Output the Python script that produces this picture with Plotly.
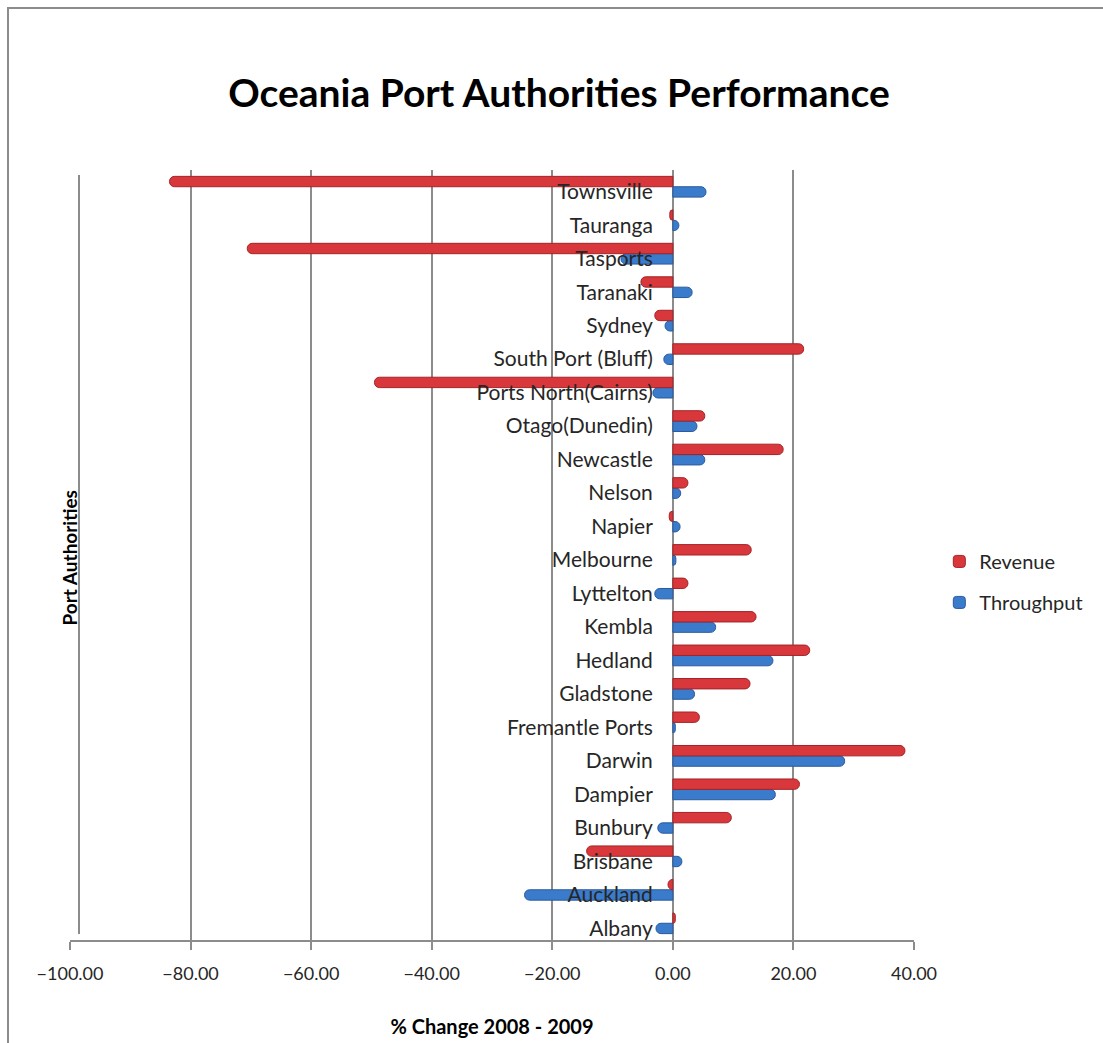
import plotly.graph_objects as go

# Port authorities, bottom to top as they appear on the category axis
ports = [
    "Albany", "Auckland", "Brisbane", "Bunbury", "Dampier", "Darwin",
    "Fremantle Ports", "Gladstone", "Hedland", "Kembla", "Lyttelton",
    "Melbourne", "Napier", "Nelson", "Newcastle", "Otago(Dunedin)",
    "Ports North(Cairns)", "South Port (Bluff)", "Sydney", "Taranaki",
    "Tasports", "Tauranga", "Townsville",
]

# % change 2008 - 2009
revenue = [
    0.4, -0.8, -14.3, 9.7, 21.0, 38.5,
    4.4, 12.8, 22.7, 13.8, 2.5,
    13.0, -0.6, 2.5, 18.3, 5.3,
    -49.5, 21.7, -3.0, -5.3,
    -70.6, -0.5, -83.5,
]
throughput = [
    -2.8, -24.6, 1.5, -2.5, 17.0, 28.5,
    0.4, 3.6, 16.6, 7.1, -3.0,
    0.5, 1.2, 1.3, 5.3, 4.0,
    -3.3, -1.5, -1.3, 3.2,
    -8.6, 1.0, 5.5,
]

x_ticks = [-100, -80, -60, -40, -20, 0, 20, 40]

RED = "#d8383b"
RED_EDGE = "#a52326"
BLUE = "#3b7bcc"
BLUE_EDGE = "#2a5a9c"

W, H = 1103, 1043
L, R, T, B = 70, 189, 170, 103

fig = go.Figure()
fig.add_trace(go.Bar(
    name="Throughput", y=ports, x=throughput, orientation="h",
    marker=dict(color=BLUE, line=dict(color=BLUE_EDGE, width=1)),
    legendgroup="t", legendrank=2,
))
fig.add_trace(go.Bar(
    name="Revenue", y=ports, x=revenue, orientation="h",
    marker=dict(color=RED, line=dict(color=RED_EDGE, width=1)),
    legendgroup="r", legendrank=1,
))

# position of the category axis where it crosses zero
zero_pos = (0 - x_ticks[0]) / (x_ticks[-1] - x_ticks[0])

pw, ph = W - L - R, H - T - B


def px_x(p):
    return (p - L) / pw


def px_y(p):
    return (H - B - p) / ph


fig.update_layout(
    width=W, height=H,
    margin=dict(l=L, r=R, t=T, b=B, autoexpand=False),
    paper_bgcolor="white", plot_bgcolor="white",
    barmode="group", bargap=0.38, bargroupgap=0.0,
    barcornerradius=5,
    font=dict(family="Lato", color="#262626"),
    title=dict(
        text="<b>Oceania Port Authorities Performance</b>",
        x=559 / W, xref="container", xanchor="center",
        y=1 - 93 / H, yanchor="middle",
        font=dict(family="Lato", size=39, color="black"),
    ),
    xaxis=dict(
        range=[x_ticks[0], x_ticks[-1]],
        tickvals=x_ticks, tickformat=".2f",
        tickfont=dict(size=18, color="#262626"),
        ticklabelstandoff=8,
        showgrid=True, gridcolor="#8c8c8c", gridwidth=2,
        zeroline=False, automargin=False,
        showline=True, linecolor="#8c8c8c", linewidth=2,
        ticks="outside", ticklen=8, tickcolor="#8c8c8c", tickwidth=2,
        title=dict(text="<b>% Change 2008 - 2009</b>",
                   font=dict(size=20, color="black"), standoff=37),
    ),
    yaxis=dict(
        type="category", categoryorder="array", categoryarray=ports,
        anchor="free", position=zero_pos, automargin=False,
        showgrid=False, showline=False, zeroline=False,
        ticks="", ticklabelstandoff=20, ticklabelshift=5,
        tickfont=dict(size=21, color="#262626"),
    ),
    legend=dict(
        x=1.03, xanchor="left", y=0.517, yanchor="top",
        font=dict(size=20, color="#262626"),
        tracegroupgap=12, itemwidth=30,
        bgcolor="rgba(0,0,0,0)",
    ),
    annotations=[
        dict(text="<b>Port Authorities</b>", textangle=-90,
             xref="paper", yref="paper", x=px_x(55), y=px_y(558),
             showarrow=False, font=dict(size=19, color="black")),
    ],
    shapes=[
        # chart-area frame
        dict(type="rect", xref="paper", yref="paper",
             x0=px_x(8), y0=px_y(H + 20), x1=px_x(W + 20), y1=px_y(8),
             line=dict(color="#8c8c8c", width=2), layer="below"),
        # left wall edge
        dict(type="line", xref="paper", yref="paper",
             x0=px_x(79), y0=px_y(175), x1=px_x(79), y1=px_y(934),
             line=dict(color="#8c8c8c", width=2), layer="below"),
    ],
)

fig.write_html("out.html")
